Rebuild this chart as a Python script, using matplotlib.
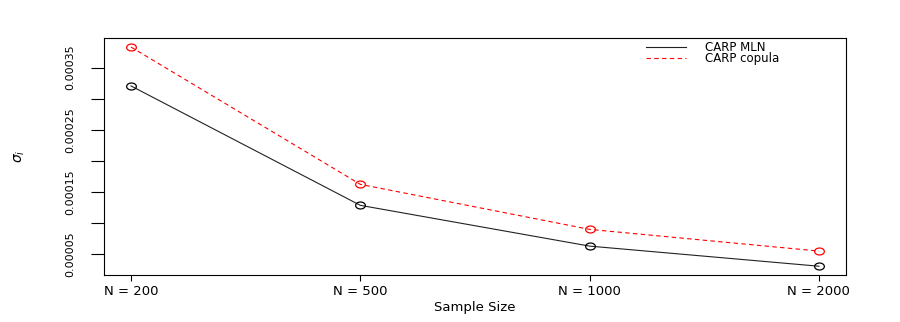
import matplotlib.pyplot as plt
from matplotlib.lines import Line2D
from matplotlib.path import Path
import numpy as np

plt.rcParams['font.family'] = ['DejaVu Sans']

sizes = ['N = 200', 'N = 500', 'N = 1000', 'N = 2000']
mln = [0.0003206, 0.0001288, 0.0000633, 0.0000310]
copula = [0.0003830, 0.0001625, 0.0000902, 0.0000553]
yticks = [0.00005, 0.0001, 0.00015, 0.0002, 0.00025, 0.0003, 0.00035]
ylabels = ['0.00005', '', '0.00015', '', '0.00025', '', '0.00035']

x = np.arange(1, len(sizes) + 1)

# wide open circle, the original picture is stretched sideways
t = np.linspace(0, 2 * np.pi, 41)
oval = Path(np.column_stack([1.4 * np.cos(t), np.sin(t)]))

fig = plt.figure(figsize=(9, 3.22), dpi=100)
ax = fig.add_axes([0.115, 0.146, 0.8255, 0.735])

ax.plot(x, mln, color='#222222', lw=0.8, marker=oval, ms=7, mfc='none',
        mec='black', mew=0.9)
ax.plot(x, copula, color='red', lw=0.8, ls=(0, (4, 3)), marker=oval, ms=7,
        mfc='none', mec='red', mew=0.9)

lo = min(min(mln), min(copula))
hi = max(max(mln), max(copula))
pad = 0.04 * (hi - lo)
ax.set_ylim(lo - pad, hi + pad)
ax.set_xlim(0.88, 4.12)

ax.set_xticks(x)
ax.set_xticklabels(sizes, fontsize=9.5)
ax.set_yticks(yticks)
ax.set_yticklabels(ylabels, rotation=90, va='center', fontsize=8)
ax.tick_params(axis='x', length=4.3, width=0.8, pad=3)
ax.tick_params(axis='y', length=9.4, width=0.8, pad=11)

for s in ax.spines.values():
    s.set_linewidth(0.8)

ax.set_xlabel('Sample Size', fontsize=9.5, labelpad=2)
ax.set_ylabel(r'$\sigma_i$', fontsize=10)
ax.yaxis.set_label_coords(-0.103, 0.5)

handles = [Line2D([], [], color='#222222', lw=0.8),
           Line2D([], [], color='red', lw=0.8, ls=(0, (4, 3)))]
ax.legend(handles, ['CARP MLN', 'CARP copula'], loc='upper left',
          bbox_to_anchor=(0.724, 1.01), frameon=False, fontsize=8.5,
          handlelength=3.4, handletextpad=1.6, labelspacing=-0.1,
          borderaxespad=0.0)

fig.savefig('out.png', dpi=100)
